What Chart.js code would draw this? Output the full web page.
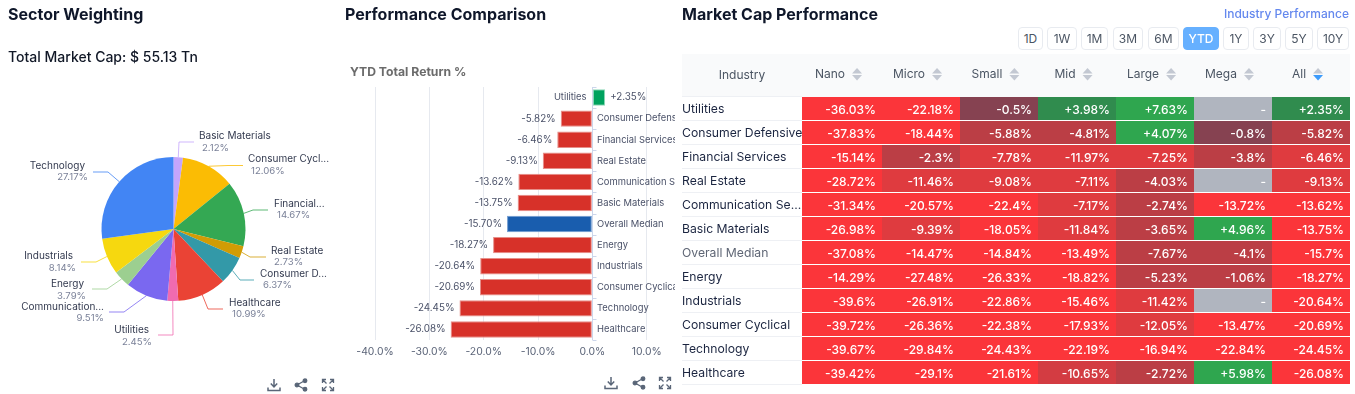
<!DOCTYPE html>
<html><head><meta charset="utf-8">
<script src="https://cdn.jsdelivr.net/npm/chart.js@4/dist/chart.umd.min.js"></script>
<style>
html,body{margin:0;padding:0;background:#fff;width:1355px;height:394px;overflow:hidden;font-family:Inter,sans-serif}
.abs{position:absolute;white-space:nowrap}
.h{font-weight:700;font-size:16px;color:#0f172a;line-height:20px}
canvas{position:absolute;top:0}
.btn{position:absolute;top:27px;height:21px;line-height:21px;border:1px solid #e8ebf0;border-radius:4px;text-align:center;font-size:12px;color:#4b5563;background:#fff;box-sizing:content-box}
.btn.on{background:#66b0ff;color:#fff;border-color:#66b0ff;font-weight:500}
svg{position:absolute}
</style></head><body>
<div style="position:absolute;left:0;top:0;width:340px;height:394px"><canvas id="pie"></canvas></div>
<div style="position:absolute;left:340px;top:0;width:335px;height:394px"><canvas id="perf"></canvas></div>
<div style="position:absolute;left:682px;top:0;width:668px;height:394px"><canvas id="table"></canvas></div>
<div class="abs h" style="left:8px;top:4px">Sector Weighting</div>
<div class="abs" style="left:8px;top:47px;font-size:14px;font-weight:500;line-height:20px;color:#111827">Total Market Cap: $ 55.13 Tn</div>
<div class="abs h" style="left:345px;top:4px">Performance Comparison</div>
<div class="abs" style="left:350px;top:64px;font-size:12.2px;font-weight:700;line-height:15px;color:#6b6b6b">YTD Total Return %</div>
<div class="abs h" style="left:682px;top:4px">Market Cap Performance</div>
<div class="abs" style="right:6px;top:6px;font-size:12px;font-weight:500;line-height:16px;color:#6488ee">Industry Performance</div>
<div id="btns"></div>
<div id="icons"></div>
<script>
// ---------- Sector weighting ----------
const sectorNames = ["Basic Materials","Consumer Cycl...","Financial...","Real Estate","Consumer D...","Healthcare","Utilities","Communication...","Energy","Industrials","Technology"];
const sectorWeights = [2.12,12.06,14.67,2.73,6.37,10.99,2.45,9.51,3.79,8.14,27.17];
// ---------- Performance comparison ----------
const perfNames = ["Utilities","Consumer Defensive","Financial Services","Real Estate","Communication Services","Basic Materials","Overall Median","Energy","Industrials","Consumer Cyclical","Technology","Healthcare"];
const perfValues = [2.35,-5.82,-6.46,-9.13,-13.62,-13.75,-15.70,-18.27,-20.64,-20.69,-24.45,-26.08];
const perfAxisTicks = [-40,-30,-20,-10,0,10];
// ---------- Market cap table ----------
const capColumns = ["Nano","Micro","Small","Mid","Large","Mega","All"];
const industries = ["Utilities","Consumer Defensive","Financial Services","Real Estate","Communication Services","Basic Materials","Overall Median","Energy","Industrials","Consumer Cyclical","Technology","Healthcare"];
const nano  = [-36.03,-37.83,-15.14,-28.72,-31.34,-26.98,-37.08,-14.29,-39.6,-39.72,-39.67,-39.42];
const micro = [-22.18,-18.44,-2.3,-11.46,-20.57,-9.39,-14.47,-27.48,-26.91,-26.36,-29.84,-29.1];
const small = [-0.5,-5.88,-7.78,-9.08,-22.4,-18.05,-14.84,-26.33,-22.86,-22.38,-24.43,-21.61];
const mid   = [3.98,-4.81,-11.97,-7.11,-7.17,-11.84,-13.49,-18.82,-15.46,-17.93,-22.19,-10.65];
const large = [7.63,4.07,-7.25,-4.03,-2.74,-3.65,-7.67,-5.23,-11.42,-12.05,-16.94,-2.72];
const mega  = [null,-0.8,-3.8,null,-13.72,4.96,-4.1,-1.06,null,-13.47,-22.84,5.98];
const all   = [2.35,-5.82,-6.46,-9.13,-13.62,-13.75,-15.7,-18.27,-20.64,-20.69,-24.45,-26.08];
const capValues = [nano,micro,small,mid,large,mega,all];
const periods = ["1D","1W","1M","3M","6M","YTD","1Y","3Y","5Y","10Y"];

// ---------- Styles / layout (not data) ----------
const FONT = "Inter, sans-serif";
const sectorColors = ["#c4a5fc","#fbbc04","#34a853","#d19c05","#3399a8","#ea4335","#f06bb0","#7a68f0","#9ccf90","#f6d80f","#4285f4"];
// leader elbow [x,y], leader end x, name [x,y], percent [x,y], side
const sectorLayout = [
 {e:[179,142],end:194,n:[199,136],v:[202,148],a:"left"},
 {e:[228,165.5],end:243,n:[248,159],v:[251,171],a:"left"},
 {e:[253,210],end:268,n:[274,204],v:[277,215],a:"left"},
 {e:[250,257],end:266,n:[271,251],v:[274,262],a:"left"},
 {e:[240,280],end:254,n:[260,274],v:[263,285],a:"left"},
 {e:[208,309],end:223,n:[229,303],v:[232,314],a:"left"},
 {e:[173,335],end:158,n:[149,330],v:[152,342],a:"right"},
 {e:[124,312],end:109,n:[104,307],v:[104,318.5],a:"right"},
 {e:[107,289],end:92,n:[84,284],v:[86,296],a:"right"},
 {e:[96,262],end:81,n:[73,256],v:[76,268],a:"right"},
 {e:[108,172],end:93,n:[85,166],v:[88,177],a:"right"}
];
const colEdges = [0,80,158,236,314,392,470,548]; // table column boundaries, table units
const shadeOverrides = {"Overall Median|Large":"#bb3e45","Healthcare|Mid":"#d33c42"};
function cellColor(v,row,col){
  const o = shadeOverrides[industries[row]+"|"+capColumns[col]];
  if(o) return o;
  if(v===null) return "#b0b5bf";
  if(v>=4) return "#2fa64f";
  if(v>0) return "#308c4e";
  if(v>-1) return "#864251";
  if(v>-6) return "#bb3e45";
  if(v>-13) return "#df3b3f";
  return "#fb353a";
}
Chart.defaults.font.family = FONT;
Chart.defaults.animation = false;
Chart.defaults.responsive = false;
Chart.defaults.plugins.legend.display = false;
Chart.defaults.plugins.tooltip.enabled = false;

// ---------- Pie ----------
const pieCv = document.getElementById("pie"); pieCv.width=340; pieCv.height=394;
new Chart(pieCv,{
  type:"pie",
  data:{labels:sectorNames,datasets:[{data:sectorWeights,backgroundColor:sectorColors,borderWidth:0}]},
  options:{layout:{padding:{left:101.5,right:94.5,top:157,bottom:93}}},
  plugins:[{id:"pieLabels",afterDatasetsDraw(c){
    const ctx=c.ctx, arcs=c.getDatasetMeta(0).data;
    arcs.forEach((a,i)=>{
      const L=sectorLayout[i], mid=(a.startAngle+a.endAngle)/2;
      const sx=a.x+Math.cos(mid)*a.outerRadius, sy=a.y+Math.sin(mid)*a.outerRadius;
      ctx.save();
      ctx.strokeStyle=sectorColors[i]; ctx.globalAlpha=.8; ctx.lineWidth=1;
      ctx.beginPath(); ctx.moveTo(sx,sy); ctx.lineTo(L.e[0],L.e[1]); ctx.lineTo(L.end,L.e[1]); ctx.stroke();
      ctx.restore();
      ctx.textAlign=L.a; ctx.textBaseline="middle";
      ctx.font="10px "+FONT; ctx.fillStyle="#333a4f";
      ctx.fillText(sectorNames[i],L.n[0],L.n[1]);
      ctx.font="9.6px "+FONT; ctx.fillStyle="#7b8299";
      ctx.fillText(sectorWeights[i].toFixed(2)+"%",L.v[0],L.v[1]);
    });
  }}]
});

// ---------- Horizontal bars ----------
function perfFill(i){ return perfValues[i]>0?"#00a25e":(perfNames[i]==="Overall Median"?"#195dae":"#d73129"); }
function perfEdge(i){ return perfValues[i]>0?"#8fd8b8":(perfNames[i]==="Overall Median"?"#6f9bd0":"#e68f89"); }
const perfCv = document.getElementById("perf"); perfCv.width=335; perfCv.height=394;
new Chart(perfCv,{
  type:"bar",
  data:{labels:perfNames,datasets:[{data:perfValues,
    backgroundColor:c=>perfFill(c.dataIndex),borderColor:c=>perfEdge(c.dataIndex),borderWidth:1,borderSkipped:false,inflateAmount:0,
    barPercentage:.78,categoryPercentage:1}]},
  options:{indexAxis:"y",
    layout:{autoPadding:false,padding:{left:35,right:28.3,top:87,bottom:34}},
    scales:{
      x:{min:-40,max:10,position:"bottom",border:{display:false},
        grid:{color:"#e6e9ef",drawTicks:false,lineWidth:1},
        afterBuildTicks(s){s.ticks=perfAxisTicks.map(v=>({value:v}));},
        afterFit(s){s.height=20;},
        ticks:{padding:6,maxRotation:0,autoSkip:false,color:"#5b6478",font:{size:10.4},callback:v=>v.toFixed(1)+"%"}},
      y:{display:false}
    }},
  plugins:[{id:"perfLabels",afterDatasetsDraw(c){
    const ctx=c.ctx,x=c.scales.x,y=c.scales.y,z=Math.round(x.getPixelForValue(0))+.5,top=c.chartArea.top,bot=c.chartArea.bottom;
    ctx.save();
    ctx.strokeStyle="#ccd6eb"; ctx.lineWidth=1;
    ctx.beginPath(); ctx.moveTo(z,top); ctx.lineTo(z,bot);
    const step=(bot-top)/perfNames.length;
    for(let i=0;i<=perfNames.length;i++){const ty=Math.round(top+i*step)+.5; ctx.moveTo(z,ty); ctx.lineTo(z+4,ty);}
    ctx.stroke();
    ctx.textBaseline="middle";
    perfValues.forEach((v,i)=>{
      const py=y.getPixelForValue(i),bx=x.getPixelForValue(v);
      ctx.font="9.4px "+FONT; ctx.fillStyle="#4a5168";
      ctx.textAlign=v>0?"right":"left";
      ctx.fillText(perfNames[i],v>0?z-6:z+4.5,py);
      ctx.font="9.8px "+FONT; ctx.fillStyle="#4a5168";
      ctx.textAlign=v>0?"left":"right";
      ctx.fillText((v>0?"+":"")+v.toFixed(2)+"%",bx+(v>0?5:-5),py);
    });
    ctx.restore();
  }}]
});

// ---------- Market cap heat table (floating bars on a category axis) ----------
const tblCv = document.getElementById("table"); tblCv.width=668; tblCv.height=394;
const colMid = i=>(colEdges[i]+colEdges[i+1])/2-12;
new Chart(tblCv,{
  type:"bar",
  data:{labels:industries,datasets:capColumns.map((name,col)=>({
    label:name,
    data:industries.map(()=>[colEdges[col],colEdges[col+1]]),
    backgroundColor:c=>cellColor(capValues[col][c.dataIndex],c.dataIndex,col),
    borderWidth:0,inflateAmount:0,grouped:false,barPercentage:23/24,categoryPercentage:1
  }))},
  options:{indexAxis:"y",
    layout:{autoPadding:false,padding:{left:0,right:0,top:53.5,bottom:9.5}},
    scales:{
      x:{position:"top",min:0,max:548,border:{display:false},grid:{display:false,drawTicks:false},
        afterBuildTicks(s){s.ticks=capColumns.map((_,i)=>({value:colMid(i)}));},
        afterFit(s){s.height=43;},
        ticks:{padding:15,autoSkip:false,maxRotation:0,color:"#4b5563",font:{size:12},callback:(v,i)=>capColumns[i]}},
      y:{border:{display:false},grid:{display:false,drawTicks:false},
        afterFit(s){s.width=120;},
        ticks:{padding:0,crossAlign:"far",autoSkip:false,font:{size:12.2},labelOffset:1,
          color:c=>industries[c.index]==="Overall Median"?"#5f6675":"#1b2540",
          callback:function(v,i){const n=industries[i];return n.length>18?n.slice(0,16)+"...":n;}}}
    }},
  plugins:[{id:"tableChrome",
    beforeDraw(c){
      const ctx=c.ctx,a=c.chartArea;
      ctx.save();
      ctx.fillStyle="#f9fafb"; ctx.fillRect(0,54,c.width,43);
      ctx.fillStyle="#eef0f4";
      for(let i=0;i<=industries.length;i++){ctx.fillRect(0,Math.round(a.top+i*24-.5)+0,a.left,1);}
      ctx.restore();
    },
    afterDraw(c){
      const ctx=c.ctx,x=c.scales.x,y=c.scales.y;
      ctx.save();
      ctx.textBaseline="middle";
      // header: Industry + sort arrows
      ctx.font="12px "+FONT; ctx.fillStyle="#4b5563"; ctx.textAlign="center";
      ctx.fillText("Industry",60,75.5);
      capColumns.forEach((n,i)=>{
        const w=ctx.measureText(n).width,cx=x.getPixelForValue(colMid(i))+w/2+12;
        ctx.fillStyle="#c3c8d2";
        ctx.beginPath();ctx.moveTo(cx-5,73.5);ctx.lineTo(cx,68);ctx.lineTo(cx+5,73.5);ctx.closePath();ctx.fill();
        ctx.fillStyle=i===6?"#3d9bfb":"#c3c8d2";
        ctx.beginPath();ctx.moveTo(cx-5,75);ctx.lineTo(cx,80.5);ctx.lineTo(cx+5,75);ctx.closePath();ctx.fill();
      });
      // cell values
      ctx.font="500 12px "+FONT; ctx.fillStyle="#fff"; ctx.textAlign="right";
      capValues.forEach((vals,col)=>{
        const right=x.getPixelForValue(colEdges[col+1])-6;
        vals.forEach((v,row)=>{
          const t=v===null?"-":(v>0?"+":"")+v+"%";
          ctx.fillText(t,right,y.getPixelForValue(row)+1.5);
        });
      });
      ctx.restore();
    }}]
});

// ---------- Chrome ----------
const btnBox=[[1018,25],[1047,30],[1081,27],[1113,30],[1148,31],[1183,36],[1223,26],[1253,28],[1285,28],[1317,32]];
const bh=document.getElementById("btns");
periods.forEach((p,i)=>{const d=document.createElement("div");d.className="btn"+(p==="YTD"?" on":"");d.textContent=p;
  d.style.left=btnBox[i][0]+"px";d.style.width=(btnBox[i][1]-2)+"px";bh.appendChild(d);});
function icons(xd,xs,xe,yc){
  const col="#5a6678";
  return `<svg style="left:${xd-7}px;top:${yc-7}px" width="14" height="14" viewBox="0 0 14 14" fill="none" stroke="${col}" stroke-width="1.5"><path d="M7 1v7.5M3.8 5.6 7 9l3.2-3.4M1 9.5v3h12v-3"/></svg>`+
  `<svg style="left:${xs-7}px;top:${yc-7}px" width="14" height="14" viewBox="0 0 14 14" fill="${col}" stroke="${col}" stroke-width="1.3"><path d="M11 2.5 3 7l8 4.5" fill="none"/><circle cx="11" cy="2.8" r="1.8"/><circle cx="3" cy="7" r="1.8"/><circle cx="11" cy="11.2" r="1.8"/></svg>`+
  `<svg style="left:${xe-7}px;top:${yc-7}px" width="14" height="14" viewBox="0 0 14 14" fill="none" stroke="${col}" stroke-width="1.3"><path d="M1.5 5V1.5H5M9 1.5h3.5V5M12.5 9v3.5H9M5 12.5H1.5V9M2 2l3.5 3.5M12 2 8.5 5.5M12 12 8.5 8.5M2 12l3.5-3.5"/></svg>`;
}
document.getElementById("icons").innerHTML=icons(274,301,328,385)+icons(611,638.5,665,383);
</script>
</body></html>
